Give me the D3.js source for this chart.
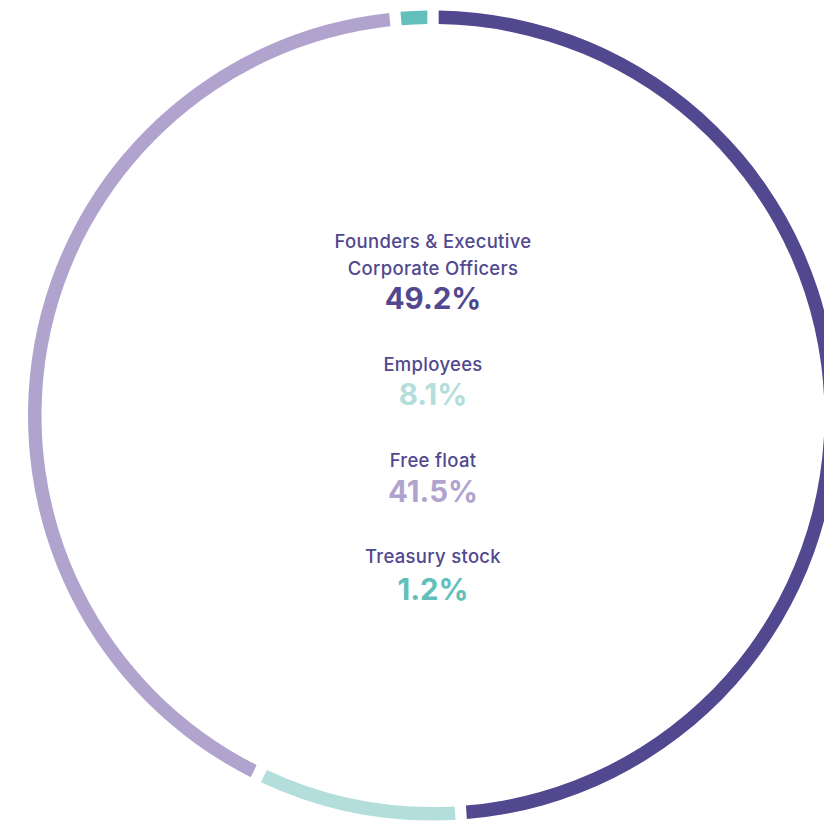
<!DOCTYPE html>
<html>
<head>
<meta charset="utf-8">
<script src="https://cdn.jsdelivr.net/npm/d3@7"></script>
<style>
  html, body { margin: 0; padding: 0; background: #ffffff; }
  svg { display: block; }
</style>
</head>
<body>
<div id="chart"></div>
<script>
// Shareholding structure
const categories = ["Founders & Executive Corporate Officers", "Employees", "Free float", "Treasury stock"];
const labelLines = [["Founders & Executive", "Corporate Officers"], ["Employees"], ["Free float"], ["Treasury stock"]];
const shares = [49.2, 8.1, 41.5, 1.2];
const colors = ["#51488f", "#b4dedb", "#b0a4cf", "#63bfbc"];
const labelColor = "#51488f";

const width = 824, height = 821;
const cx = 433, cy = 415.5;
const outerR = 405, ringW = 13.5;

const svg = d3.select("#chart").append("svg")
  .attr("width", width).attr("height", height);

const g = svg.append("g").attr("transform", `translate(${cx},${cy})`);

const pie = d3.pie().sort(null).value(d => d).padAngle(8 / (outerR - ringW / 2));
const arc = d3.arc().innerRadius(outerR - ringW).outerRadius(outerR);

g.selectAll("path.slice")
  .data(pie(shares))
  .join("path")
  .attr("class", "slice")
  .attr("d", arc)
  .attr("fill", (d, i) => colors[i]);

// Centre legend: name then share in the slice colour
const fontFamily = "Inter, 'Open Sans', sans-serif";
const labelBaselines = [[248, 275], [371], [467], [563]];
const valueBaselines = [308.5, 404.5, 502, 600];
const fmt = v => d3.format(".1f")(v) + "%";

const legend = svg.append("g").attr("text-anchor", "middle");
categories.forEach((c, i) => {
  labelLines[i].forEach((line, j) => {
    legend.append("text")
      .attr("x", cx)
      .attr("y", labelBaselines[i][j])
      .attr("font-family", fontFamily)
      .attr("font-size", 18.5)
      .attr("font-weight", 500)
      .attr("letter-spacing", 0.3)
      .attr("fill", labelColor)
      .text(line);
  });
  legend.append("text")
    .attr("x", cx)
    .attr("y", valueBaselines[i])
    .attr("font-family", fontFamily)
    .attr("font-size", 29.5)
    .attr("font-weight", 700)
    .attr("fill", colors[i])
    .text(fmt(shares[i]));
});
</script>
</body>
</html>
